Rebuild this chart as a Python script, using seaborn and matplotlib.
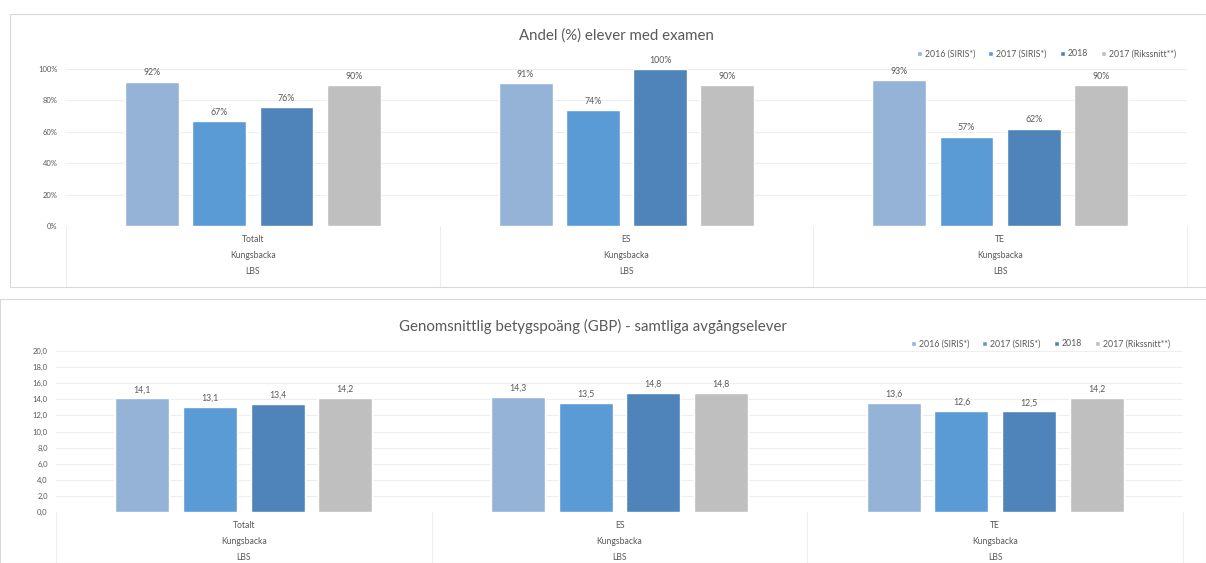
import numpy as np
import pandas as pd
import matplotlib
matplotlib.use("Agg")
import matplotlib.pyplot as plt
import matplotlib.transforms as mtransforms
from matplotlib.patches import Rectangle
import seaborn as sns

# data
categories = ["Totalt", "ES", "TE"]
level2 = "Kungsbacka"
level3 = "LBS"
series = ["2016 (SIRIS*)", "2017 (SIRIS*)", "2018", "2017 (Rikssnitt**)"]
colors = ["#95B3D7", "#5B9BD5", "#4F84BA", "#BFBFBF"]

exam_2016 = [92, 91, 93]
exam_2017 = [67, 74, 57]
exam_2018 = [76, 100, 62]
exam_riks = [90, 90, 90]

gbp_2016 = [14.1, 14.3, 13.6]
gbp_2017 = [13.1, 13.5, 12.6]
gbp_2018 = [13.4, 14.8, 12.5]
gbp_riks = [14.2, 14.8, 14.2]

W, H = 1206, 563
TXT = "#595959"
GRID = "#EEEEEE"

sns.set_theme(style="white")
plt.rcParams["font.family"] = ["Lato", "DejaVu Sans"]


def long_df(vals):
    rows = []
    for s, v in zip(series, vals):
        for c, x in zip(categories, v):
            rows.append({"cat": c, "series": s, "value": x})
    return pd.DataFrame(rows)


def px_axes(fig, x0, x1, ytop, ybot):
    return fig.add_axes([x0 / W, 1 - ybot / H, (x1 - x0) / W, (ybot - ytop) / H])


def draw_panel(fig, ax, df, ymax, ystep, tickfmt, labfmt, title, title_xy, leg_xy, below_px):
    sns.barplot(data=df, x="cat", y="value", hue="series", order=categories,
                hue_order=series, palette=colors, width=0.72, gap=0.2,
                saturation=1, ax=ax, errorbar=None, legend=True)
    ax.set_ylim(0, ymax)
    ax.set_xlim(-0.5, len(categories) - 0.5)
    ax.set_yticks(np.arange(0, ymax + 0.01, ystep))
    ax.set_yticklabels([tickfmt(t) for t in np.arange(0, ymax + 0.01, ystep)],
                       fontsize=5.5, color=TXT)
    ax.tick_params(axis="y", length=0, pad=6)
    ax.set_xticks([])
    ax.set_xlabel("")
    ax.set_ylabel("")
    for sp in ax.spines.values():
        sp.set_visible(False)
    ax.yaxis.grid(True, color=GRID, linewidth=0.8)
    ax.set_axisbelow(True)
    for cont in ax.containers:
        ax.bar_label(cont, labels=[labfmt(v) for v in cont.datavalues],
                     fontsize=6.3, color=TXT, padding=3)

    # multi-level category axis
    h_px = ax.get_position().height * H
    trans = mtransforms.blended_transform_factory(ax.transData, ax.transAxes)
    for i, c in enumerate(categories):
        for row, txt in enumerate([c, level2, level3]):
            ax.text(i, -(14 + 16 * row) / h_px, txt, transform=trans,
                    ha="center", va="center", fontsize=6.2, color=TXT)
    for b in np.arange(-0.5, len(categories), 1.0):
        ax.plot([b, b], [0, -below_px / h_px], transform=trans, color=GRID,
                linewidth=0.8, clip_on=False)

    handles, labels = ax.get_legend_handles_labels()
    ax.legend_.remove()
    fig.legend(handles, labels, loc="center right",
               bbox_to_anchor=(leg_xy[0] / W, 1 - leg_xy[1] / H), ncol=4,
               frameon=False, fontsize=6.3, handlelength=0.55, handleheight=0.55,
               handletextpad=0.35, columnspacing=1.5, labelcolor=TXT,
               borderaxespad=0, borderpad=0)
    fig.text(title_xy[0] / W, 1 - title_xy[1] / H, title, ha="center", va="center",
             fontsize=10.8, color=TXT)


fig = plt.figure(figsize=(W / 100, H / 100), dpi=100)

# panel frames
fig.patches.append(Rectangle((10 / W, 1 - 287 / H), (W - 10) / W, (287 - 14) / H,
                             transform=fig.transFigure, fill=False,
                             edgecolor="#D9D9D9", linewidth=0.8))
fig.patches.append(Rectangle((0, 0), 1, 1 - 299 / H, transform=fig.transFigure,
                             fill=False, edgecolor="#D9D9D9", linewidth=0.8))

ax1 = px_axes(fig, 66, 1187, 69, 226)
draw_panel(fig, ax1, long_df([exam_2016, exam_2017, exam_2018, exam_riks]),
           100, 20, lambda t: f"{t:.0f}%", lambda v: f"{v:.0f}%",
           "Andel (%) elever med examen", (616, 36), (1176, 54), 61)

ax2 = px_axes(fig, 56, 1183, 351, 512)
draw_panel(fig, ax2, long_df([gbp_2016, gbp_2017, gbp_2018, gbp_riks]),
           20, 2, lambda t: f"{t:.1f}".replace(".", ","),
           lambda v: f"{v:.1f}".replace(".", ","),
           "Genomsnittlig betygspoäng (GBP) - samtliga avgångselever", (593, 326),
           (1170, 344), 60)

fig.savefig("out.png", dpi=100, facecolor="white")
